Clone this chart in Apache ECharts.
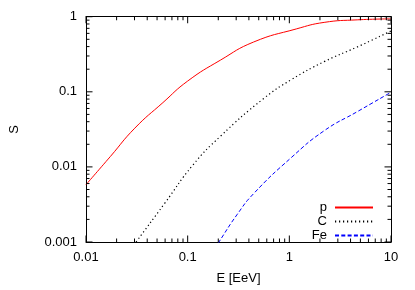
<!DOCTYPE html>
<html><head><meta charset="utf-8">
<script src="https://cdn.jsdelivr.net/npm/echarts@6/dist/echarts.min.js"></script>
<style>html,body{margin:0;padding:0;background:#fff}#c{width:415px;height:290px}</style>
</head><body><div id="c"></div>
<script>
// Data
const pE  = [0.01, 0.0174, 0.0302, 0.0571, 0.1, 0.21, 0.445, 1.17, 2.2, 4.65, 10];
const pS  = [0.0058, 0.0138, 0.0328, 0.0718, 0.139, 0.264, 0.46, 0.687, 0.84, 0.908, 0.935];
const cE  = [0.0251, 0.0311, 0.0594, 0.112, 0.21, 0.556, 1.045, 2.2, 4.65, 10];
const cS  = [0.00067, 0.001, 0.00327, 0.0105, 0.0256, 0.0809, 0.145, 0.252, 0.395, 0.645];
const feE = [0.158, 0.203, 0.305, 0.445, 1.045, 2.2, 4.65, 10];
const feS = [0.00059, 0.001, 0.0023, 0.0044, 0.0133, 0.0303, 0.0543, 0.0986];
const seriesNames = ['p', 'C', 'Fe'];
const xRange = [0.01, 10];
const yRange = [0.001, 1];
const xMajor = [0.01, 0.1, 1, 10];
const yMajor = [0.001, 0.01, 0.1, 1];
const xMinor = [0.02,0.03,0.04,0.05,0.06,0.07,0.08,0.09,0.2,0.3,0.4,0.5,0.6,0.7,0.8,0.9,2,3,4,5,6,7,8,9];
const yMinor = [0.002,0.003,0.004,0.005,0.006,0.007,0.008,0.009,0.02,0.03,0.04,0.05,0.06,0.07,0.08,0.09,0.2,0.3,0.4,0.5,0.6,0.7,0.8,0.9];
const xName = 'E [EeV]';
const yName = 'S';

const FONT = 'Liberation Sans, Arial, sans-serif';
const zip = (a, b) => a.map((v, i) => [v, b[i]]);
const fmt = v => String(+(+v).toPrecision(3));
const TXT = { color: '#000', fontSize: 13, fontFamily: FONT };
const MAJOR_LEN = 6.5, MINOR_LEN = 3.5;

function logAxis(range, pos, showLabel, extra) {
  return Object.assign({
    type: 'log', logBase: 10, gridIndex: 0, position: pos, min: range[0], max: range[1],
    axisLine: { show: true, lineStyle: { color: '#000', width: 1 } },
    axisTick: { show: false }, minorTick: { show: false },
    axisLabel: Object.assign({ show: showLabel, formatter: fmt }, TXT),
    splitLine: { show: false }, minorSplitLine: { show: false }
  }, extra || {});
}

// inward tick marks drawn as thin rect symbols sitting on the frame edges
function tickSeries(data, size, offset) {
  return {
    type: 'scatter', xAxisIndex: 0, yAxisIndex: 0, data, symbol: 'rect', symbolSize: size,
    symbolOffset: offset, silent: true, clip: false, z: 4, animation: false,
    itemStyle: { color: '#000', borderWidth: 0, opacity: 1 }, emphasis: { disabled: true }, tooltip: { show: false }
  };
}
const onBottom = v => [v, yRange[0]], onTop = v => [v, yRange[1]];
const onLeft = v => [xRange[0], v], onRight = v => [xRange[1], v];

const option = {
  animation: false,
  backgroundColor: '#fff',
  grid: { left: 82, right: 24, top: 16.7, bottom: 44.3, containLabel: false },
  xAxis: [
    logAxis(xRange, 'bottom', true, { name: xName, nameLocation: 'middle', nameGap: 30, nameTextStyle: TXT,
      axisLabel: Object.assign({ show: true, formatter: fmt, margin: 8.5 }, TXT) }),
    logAxis(xRange, 'top', false)
  ],
  yAxis: [
    logAxis(yRange, 'left', true, { name: yName, nameLocation: 'middle', nameGap: 65, nameTextStyle: TXT,
      axisLabel: Object.assign({ show: true, formatter: fmt, margin: 9, padding: [3, 0, 0, 0] }, TXT) }),
    logAxis(yRange, 'right', false)
  ],
  legend: {
    data: seriesNames, orient: 'vertical', align: 'right', right: 41, top: 201,
    itemWidth: 38, itemHeight: 10, itemGap: 1, padding: 0,
    itemStyle: { opacity: 0 },
    textStyle: Object.assign({ padding: [0, 3, 0, 0] }, TXT)
  },
  series: [
    { name: seriesNames[0], type: 'line', xAxisIndex: 0, yAxisIndex: 0, data: zip(pE, pS), showSymbol: false, symbol: 'none', smooth: 0.5, clip: true,
      lineStyle: { color: '#ff0000', width: 1 }, itemStyle: { color: '#ff0000' } },
    { name: seriesNames[1], type: 'line', xAxisIndex: 0, yAxisIndex: 0, data: zip(cE, cS), showSymbol: false, symbol: 'none', smooth: 0.5, clip: true,
      lineStyle: { color: '#000', width: 1.2, type: [1.2, 2.8] }, itemStyle: { color: '#000' } },
    { name: seriesNames[2], type: 'line', xAxisIndex: 0, yAxisIndex: 0, data: zip(feE, feS), showSymbol: false, symbol: 'none', smooth: 0.5, clip: true,
      lineStyle: { color: '#0000ff', width: 1, type: [4, 2.3] }, itemStyle: { color: '#0000ff' } },
    tickSeries(xMajor.map(onBottom), [1, MAJOR_LEN], [0, '-50%']),
    tickSeries(xMinor.map(onBottom), [1, MINOR_LEN], [0, '-50%']),
    tickSeries(xMajor.map(onTop), [1, MAJOR_LEN], [0, '50%']),
    tickSeries(xMinor.map(onTop), [1, MINOR_LEN], [0, '50%']),
    tickSeries(yMajor.map(onLeft), [MAJOR_LEN, 1], ['50%', 0]),
    tickSeries(yMinor.map(onLeft), [MINOR_LEN, 1], ['50%', 0]),
    tickSeries(yMajor.map(onRight), [MAJOR_LEN, 1], ['-50%', 0]),
    tickSeries(yMinor.map(onRight), [MINOR_LEN, 1], ['-50%', 0])
  ]
};
echarts.init(document.getElementById('c'), null, { renderer: 'canvas' }).setOption(option);
</script></body></html>
